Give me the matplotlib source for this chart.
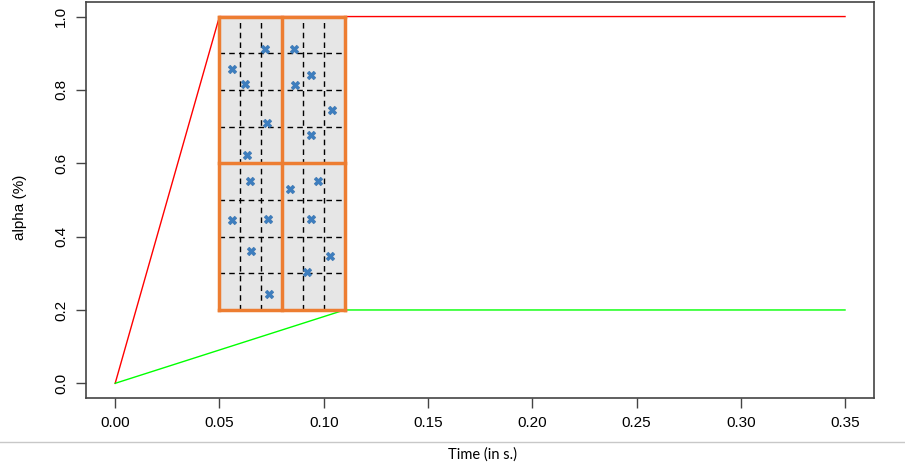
import matplotlib.pyplot as plt
from matplotlib.lines import Line2D
from matplotlib.patches import Rectangle

plt.rcParams["font.family"] = ["Liberation Sans", "DejaVu Sans"]

# envelope lines
red_x = [0.0, 0.05, 0.35]
red_y = [0.0, 1.0, 1.0]
green_x = [0.0, 0.11, 0.35]
green_y = [0.0, 0.2, 0.2]

# sampling domain and its 2x2 split
box_x = [0.05, 0.08, 0.11]
box_y = [0.2, 0.6, 1.0]
dash_x = [0.05, 0.06, 0.07, 0.08, 0.09, 0.10, 0.11]
dash_y = [0.2, 0.3, 0.4, 0.5, 0.6, 0.7, 0.8, 0.9, 1.0]

# sample points
pts_x = [0.0561, 0.0623, 0.0719, 0.0729, 0.0633,
         0.0858, 0.0940, 0.0863, 0.1040, 0.0940,
         0.0647, 0.0561, 0.0733, 0.0652, 0.0738,
         0.0839, 0.0973, 0.0940, 0.1031, 0.0920]
pts_y = [0.858, 0.816, 0.912, 0.710, 0.622,
         0.912, 0.841, 0.814, 0.745, 0.677,
         0.551, 0.444, 0.447, 0.362, 0.244,
         0.529, 0.553, 0.449, 0.348, 0.304]

xticks = [0.00, 0.05, 0.10, 0.15, 0.20, 0.25, 0.30, 0.35]
yticks = [0.0, 0.2, 0.4, 0.6, 0.8, 1.0]

orange = "#ED7D31"

fig = plt.figure(figsize=(9.05, 4.71), dpi=100)
ax = fig.add_axes([0.095, 0.155, 0.871, 0.841])

ax.plot(red_x, red_y, color="#ff0000", lw=1.0, zorder=2)
ax.plot(green_x, green_y, color="#00ff00", lw=1.0, zorder=2)

ax.add_patch(Rectangle((box_x[0], box_y[0]), box_x[-1] - box_x[0], box_y[-1] - box_y[0],
                       facecolor="#e6e6e6", edgecolor="none", zorder=3))
for xv in dash_x:
    ax.plot([xv, xv], [box_y[0], box_y[-1]], color="black", lw=1.0, ls=(0, (4, 3)), zorder=4)
for yv in dash_y:
    ax.plot([box_x[0], box_x[-1]], [yv, yv], color="black", lw=1.0, ls=(0, (4, 3)), zorder=4)
for xv in box_x:
    ax.plot([xv, xv], [box_y[0], box_y[-1]], color=orange, lw=2.5, zorder=5, solid_capstyle="projecting")
for yv in box_y:
    ax.plot([box_x[0], box_x[-1]], [yv, yv], color=orange, lw=2.5, zorder=5, solid_capstyle="projecting")

ax.scatter(pts_x, pts_y, marker="X", s=40, color="#3d7ebf", edgecolors="#2e6aa8", linewidths=0.3, zorder=6)

ax.set_xlim(-0.014, 0.364)
ax.set_ylim(-0.04, 1.04)
ax.set_xticks(xticks)
ax.set_xticklabels(["%.2f" % v for v in xticks])
ax.set_yticks(yticks)
ax.set_yticklabels(["%.1f" % v for v in yticks], rotation=90, va="center")
ax.tick_params(axis="both", labelsize=11, length=7, width=1, color="#444444", pad=6)
for s in ax.spines.values():
    s.set_color("#444444")
    s.set_linewidth(1.2)

fig.text(0.022, 0.56, "alpha (%)", rotation=90, ha="center", va="center", fontsize=11)
fig.text(0.533, 0.034, "Time (in s.)", ha="center", va="center", fontsize=10.5,
         family=["Lato", "DejaVu Sans"])
fig.add_artist(Line2D([0, 1], [0.062, 0.062], color="#c8c8c8", lw=1.0, transform=fig.transFigure))

fig.savefig("out.png", dpi=100)
